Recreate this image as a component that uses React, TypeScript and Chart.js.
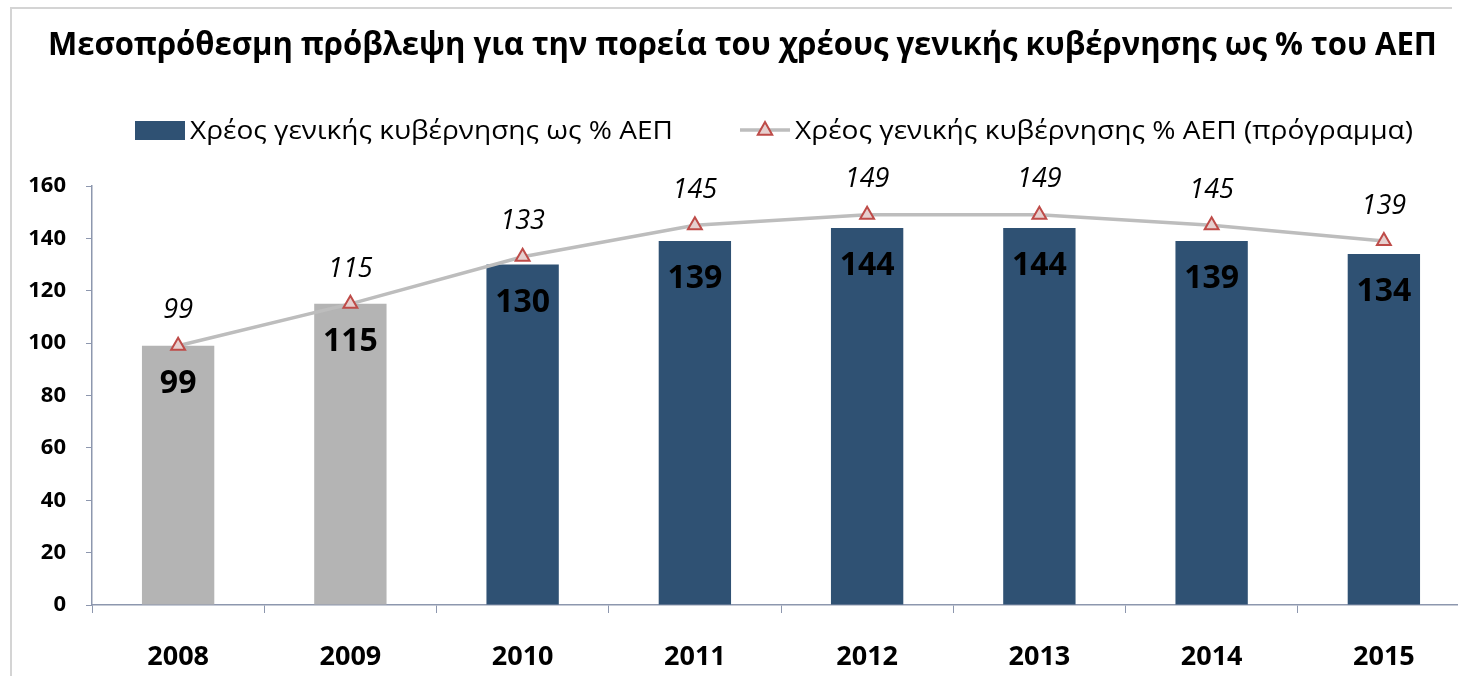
import React, { useEffect, useRef } from "react";
import { Chart, registerables } from "chart.js";

Chart.register(...registerables);

const years = ["2008", "2009", "2010", "2011", "2012", "2013", "2014", "2015"];
const debtActual = [99, 115, 130, 139, 144, 144, 139, 134];
const debtProgramme = [99, 115, 133, 145, 149, 149, 145, 139];
const yTicks = [0, 20, 40, 60, 80, 100, 120, 140, 160];

const titleText = "Μεσοπρόθεσμη πρόβλεψη για την πορεία του χρέους γενικής κυβέρνησης ως % του ΑΕΠ";
const barLegend = "Χρέος γενικής κυβέρνησης ως % ΑΕΠ";
const lineLegend = "Χρέος γενικής κυβέρνησης % ΑΕΠ (πρόγραμμα)";

const BLUE = "#2F5173";
const GRAY = "#B4B4B4";
const LINE = "#BDBDBD";
const MARK_BORDER = "#BE4B48";
const MARK_FILL = "#E6CFCE";
const AXIS = "#8D97AE";
const FONT = "'Open Sans', 'Noto Sans', sans-serif";

const barColors = years.map((_, i) => (i < 2 ? GRAY : BLUE));

function drawFitted(ctx: CanvasRenderingContext2D, text: string, style: string, size: number, x: number, baseline: number, target: number) {
  ctx.font = `${style} ${size}px ${FONT}`;
  const w = ctx.measureText(text).width;
  const sx = target / w;
  ctx.save();
  ctx.translate(x, baseline);
  ctx.scale(sx, 1);
  ctx.textAlign = "left";
  ctx.textBaseline = "alphabetic";
  ctx.fillText(text, 0, 0);
  ctx.restore();
}

function drawTriangle(ctx: CanvasRenderingContext2D, x: number, y: number, r: number) {
  ctx.save();
  ctx.fillStyle = MARK_FILL;
  ctx.strokeStyle = MARK_BORDER;
  ctx.lineWidth = 2;
  ctx.beginPath();
  ctx.moveTo(x, y - r);
  ctx.lineTo(x + r * 0.9, y + r * 0.6);
  ctx.lineTo(x - r * 0.9, y + r * 0.6);
  ctx.closePath();
  ctx.fill();
  ctx.stroke();
  ctx.restore();
}

const decorPlugin = {
  id: "decor",
  afterDraw(chart: any) {
    const ctx: CanvasRenderingContext2D = chart.ctx;
    ctx.save();
    ctx.fillStyle = "#000";
    drawFitted(ctx, titleText, "bold", 32, 48, 55, 1389);

    // legend
    ctx.fillStyle = BLUE;
    ctx.fillRect(135, 121, 50, 19);
    ctx.fillStyle = "#000";
    drawFitted(ctx, barLegend, "normal", 25, 190, 139, 483);

    ctx.strokeStyle = LINE;
    ctx.lineWidth = 3.5;
    ctx.beginPath();
    ctx.moveTo(740, 130);
    ctx.lineTo(790, 130);
    ctx.stroke();
    drawTriangle(ctx, 765, 130, 8);
    ctx.fillStyle = "#000";
    drawFitted(ctx, lineLegend, "normal", 25, 795, 139, 618);

    // data labels
    ctx.textAlign = "center";
    ctx.textBaseline = "middle";
    const barMeta = chart.getDatasetMeta(1);
    ctx.font = `bold 32px ${FONT}`;
    barMeta.data.forEach((el: any, i: number) => {
      ctx.fillText(String(debtActual[i]), el.x, el.y + 38);
    });
    const lineMeta = chart.getDatasetMeta(0);
    ctx.font = `italic 27px ${FONT}`;
    lineMeta.data.forEach((el: any, i: number) => {
      ctx.fillText(String(debtProgramme[i]), el.x, el.y - 35);
    });
    ctx.restore();
  },
};

export default function App() {
  const ref = useRef<HTMLCanvasElement>(null);
  useEffect(() => {
    if (!ref.current) return;
    const chart = new Chart(ref.current, {
      type: "bar",
      data: {
        labels: years,
        datasets: [
          {
            type: "line",
            label: lineLegend,
            data: debtProgramme,
            borderColor: LINE,
            borderWidth: 3.5,
            pointStyle: "triangle",
            pointRadius: 8,
            pointBorderWidth: 2,
            pointBorderColor: MARK_BORDER,
            pointBackgroundColor: MARK_FILL,
            order: 1,
          } as any,
          {
            type: "bar",
            label: barLegend,
            data: debtActual,
            backgroundColor: barColors,
            categoryPercentage: 1,
            barPercentage: 0.42,
            order: 2,
          },
        ],
      },
      options: {
        responsive: false,
        animation: false,
        devicePixelRatio: 1,
        layout: { padding: { top: 186, right: 5, left: 0, bottom: 0 } },
        plugins: { legend: { display: false }, title: { display: false }, tooltip: { enabled: false } },
        scales: {
          x: {
            offset: true,
            grid: { display: true, drawOnChartArea: false, drawTicks: true, tickLength: 8, color: AXIS, offset: true },
            border: { display: true, color: AXIS, width: 1.5 },
            ticks: { color: "#000", font: { family: FONT, size: 27, weight: "bold" }, padding: 28 },
            afterFit: (s: any) => { s.height = 71; },
          },
          y: {
            min: 0,
            max: 160,
            afterBuildTicks: (s: any) => { s.ticks = yTicks.map((v) => ({ value: v })); },
            grid: { display: true, drawOnChartArea: false, drawTicks: true, tickLength: 6, color: AXIS },
            border: { display: true, color: AXIS, width: 1.5 },
            ticks: { color: "#000", font: { family: FONT, size: 22, weight: "bold" }, padding: 20 },
            afterFit: (s: any) => { s.width = 92; },
          },
        },
      },
      plugins: [decorPlugin],
    });
    return () => chart.destroy();
  }, []);
  return (
    <div style={{ position: "absolute", left: 0, top: 0, width: 1458, height: 676, overflow: "hidden", background: "#fff" }}>
      <div style={{ position: "absolute", left: 10, top: 7, width: 1440, height: 680, borderLeft: "2px solid #D4D4D4", borderTop: "2px solid #D4D4D4" }} />
      <canvas ref={ref} width={1480} height={676} style={{ position: "absolute", left: 0, top: 0, width: 1480, height: 676 }} />
    </div>
  );
}
